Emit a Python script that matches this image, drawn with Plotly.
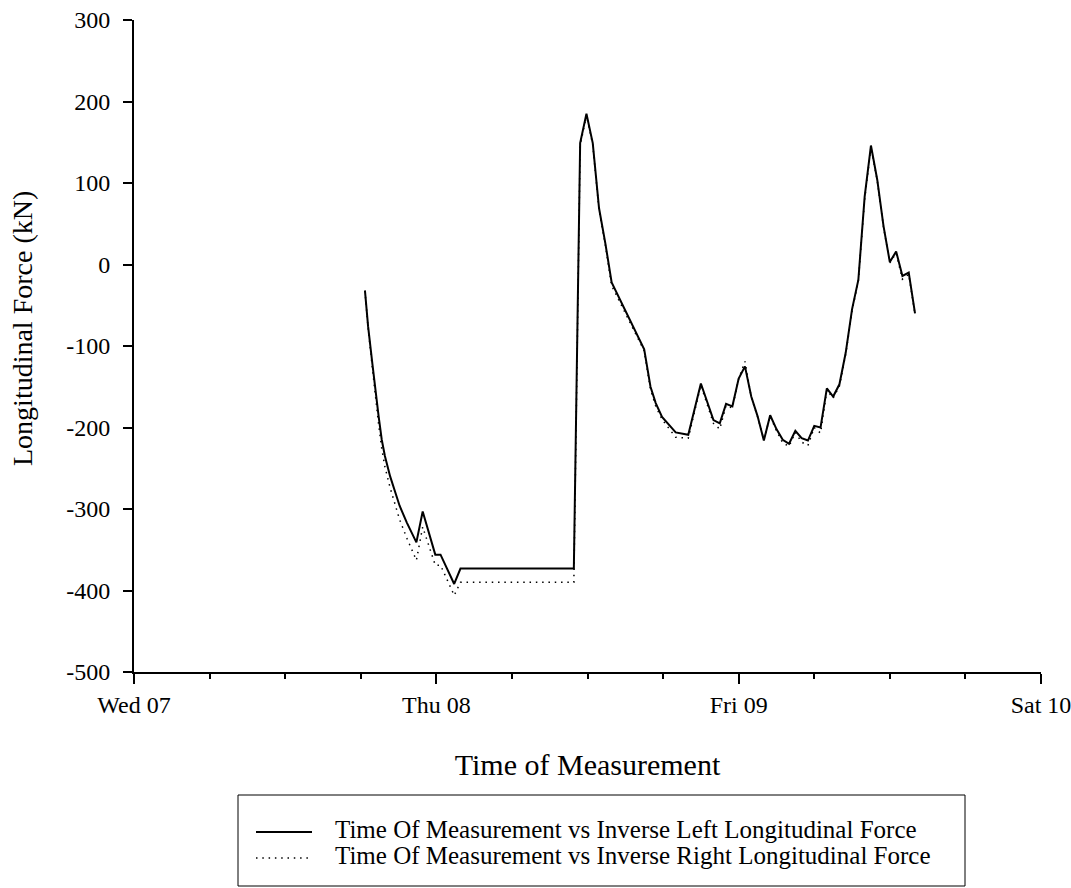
import plotly.graph_objects as go

times = [
    "2023-06-07 18:20", "2023-06-07 18:35", "2023-06-07 18:55", "2023-06-07 19:10",
    "2023-06-07 19:25", "2023-06-07 19:40", "2023-06-07 19:55", "2023-06-07 20:20",
    "2023-06-07 20:45", "2023-06-07 21:05", "2023-06-07 21:40", "2023-06-07 22:25",
    "2023-06-07 22:55", "2023-06-07 23:55", "2023-06-08 00:20", "2023-06-08 01:25",
    "2023-06-08 01:55", "2023-06-08 10:55", "2023-06-08 11:25", "2023-06-08 11:55",
    "2023-06-08 12:25", "2023-06-08 12:55", "2023-06-08 13:25", "2023-06-08 13:55",
    "2023-06-08 16:30", "2023-06-08 17:00", "2023-06-08 17:25", "2023-06-08 17:55",
    "2023-06-08 19:00", "2023-06-08 20:00", "2023-06-08 21:00", "2023-06-08 22:00",
    "2023-06-08 22:30", "2023-06-08 23:00", "2023-06-08 23:30", "2023-06-09 00:00",
    "2023-06-09 00:30", "2023-06-09 01:00", "2023-06-09 01:30", "2023-06-09 02:00",
    "2023-06-09 02:30", "2023-06-09 03:00", "2023-06-09 03:30", "2023-06-09 04:00",
    "2023-06-09 04:30", "2023-06-09 05:00", "2023-06-09 05:30", "2023-06-09 06:00",
    "2023-06-09 06:30", "2023-06-09 07:00", "2023-06-09 07:30", "2023-06-09 08:00",
    "2023-06-09 08:30", "2023-06-09 09:00", "2023-06-09 09:30", "2023-06-09 10:00",
    "2023-06-09 10:30", "2023-06-09 11:00", "2023-06-09 11:30", "2023-06-09 12:00",
    "2023-06-09 12:30", "2023-06-09 13:00", "2023-06-09 13:30", "2023-06-09 14:00",
]

inverse_left = [
    -32, -76, -121, -157, -186, -215, -235, -260,
    -280, -296, -317, -341, -303, -356, -356, -392,
    -373, -373, 149, 185, 149, 69, 26, -22,
    -104, -150, -170, -187, -206, -209, -146, -191,
    -195, -171, -174, -140, -125, -162, -186, -216,
    -185, -202, -215, -220, -204, -213, -216, -198,
    -200, -152, -162, -147, -108, -55, -19, 83,
    146, 104, 47, 3, 16, -14, -10, -60,
]

inverse_right = [
    -32, -78, -126, -164, -196, -226, -248, -274,
    -295, -313, -336, -363, -322, -369, -369, -406,
    -390, -390, 146, 183, 147, 67, 24, -26,
    -106, -153, -174, -190, -212, -213, -148, -195,
    -202, -173, -176, -140, -119, -163, -187, -215,
    -186, -204, -219, -223, -206, -218, -222, -200,
    -207, -154, -164, -149, -110, -57, -20, 80,
    144, 103, 46, 2, 14, -18, -12, -61,
]

y_tick_values = [-500, -400, -300, -200, -100, 0, 100, 200, 300]
y_tick_labels = ["-500", "-400", "-300", "-200", "-100", "0", "100", "200", "300"]

series_names = [
    "Time Of Measurement vs Inverse Left Longitudinal Force",
    "Time Of Measurement vs Inverse Right Longitudinal Force",
]

FONT = "Liberation Serif, Times New Roman, serif"
DOT = "1.5px,4.8px"

fig = go.Figure()
fig.add_trace(go.Scatter(x=times, y=inverse_right, mode="lines", name=series_names[1],
                         line=dict(color="black", width=1.5, dash=DOT), showlegend=False))
fig.add_trace(go.Scatter(x=times, y=inverse_left, mode="lines", name=series_names[0],
                         line=dict(color="black", width=2), showlegend=False))

# plot area in pixels: x 134..1041, y 20..672
W, H = 1071, 888
L, R, T, B = 134, 1041, 20, 672


def px(xp):
    return (xp - L) / (R - L)


def py(yp):
    return (B - yp) / (B - T)


shapes = [
    dict(type="rect", xref="paper", yref="paper", x0=px(238), x1=px(965), y0=py(886), y1=py(795),
         line=dict(color="black", width=1), fillcolor="rgba(0,0,0,0)"),
    dict(type="line", xref="paper", yref="paper", x0=px(256), x1=px(312), y0=py(832), y1=py(832),
         line=dict(color="black", width=2)),
    dict(type="line", xref="paper", yref="paper", x0=px(256), x1=px(312), y0=py(858), y1=py(858),
         line=dict(color="black", width=1.5, dash=DOT)),
]
annotations = [
    dict(xref="paper", yref="paper", x=px(333), y=py(829), text=series_names[0], showarrow=False,
         xanchor="left", yanchor="middle", font=dict(family=FONT, size=25, color="black")),
    dict(xref="paper", yref="paper", x=px(333), y=py(855), text=series_names[1], showarrow=False,
         xanchor="left", yanchor="middle", font=dict(family=FONT, size=25, color="black")),
    dict(xref="paper", yref="paper", x=px(22), y=py(329), text="Longitudinal Force (kN)",
         showarrow=False, textangle=-90, xanchor="center", yanchor="middle",
         font=dict(family=FONT, size=28, color="black")),
]

fig.update_layout(
    width=W, height=H,
    margin=dict(l=L, r=W - R, t=T, b=H - B, autoexpand=False),
    paper_bgcolor="white", plot_bgcolor="white",
    font=dict(family=FONT, color="black"),
    shapes=shapes, annotations=annotations,
    showlegend=False,
)

fig.update_xaxes(
    type="date",
    range=["2023-06-07 00:00", "2023-06-10 00:00"],
    tick0="2023-06-07", dtick=86400000, tickformat="%a %d",
    ticks="outside", ticklen=10, tickwidth=2, tickcolor="black",
    showline=True, linecolor="black", linewidth=2, showgrid=False, zeroline=False,
    tickfont=dict(family=FONT, size=24, color="black"),
    ticklabeloverflow="allow",
    minor=dict(dtick=6 * 3600000, ticks="outside", ticklen=5, tickwidth=2, tickcolor="black", showgrid=False),
    title=dict(text="Time of Measurement", font=dict(family=FONT, size=30, color="black"), standoff=37),
)
fig.update_yaxes(
    range=[-500, 300], tickmode="array", tickvals=y_tick_values, ticktext=y_tick_labels,
    ticks="outside", ticklen=9, tickwidth=2, tickcolor="black",
    showline=True, linecolor="black", linewidth=2, showgrid=False, zeroline=False,
    tickfont=dict(family=FONT, size=24, color="black"),
    ticklabelstandoff=8,
)

fig.write_html("out.html")
